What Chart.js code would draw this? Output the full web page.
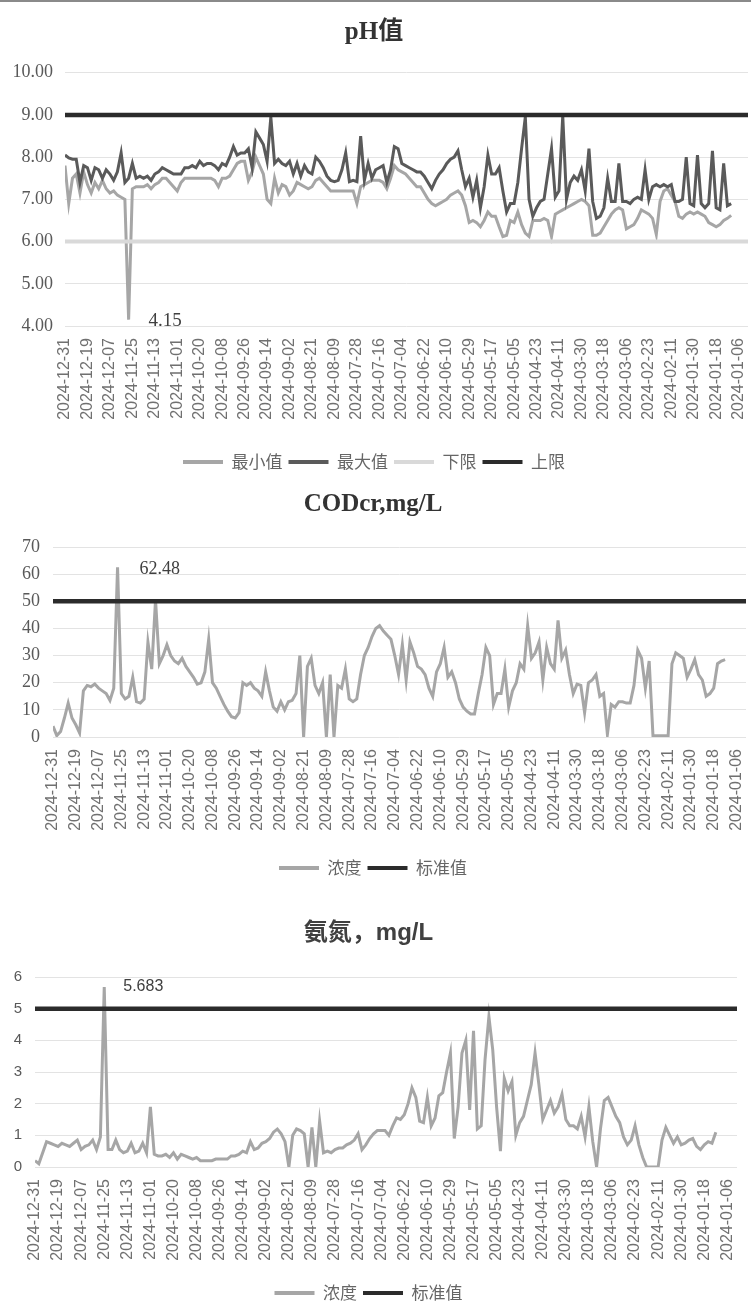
<!DOCTYPE html>
<html><head><meta charset="utf-8">
<script src="https://cdn.jsdelivr.net/npm/chart.js@4.4.1/dist/chart.umd.min.js"></script>
<style>
html,body{margin:0;padding:0;background:#fff;width:751px;height:1305px;overflow:hidden;position:relative}
.box{position:absolute;left:0;width:751px}
canvas{display:block}
#topline{position:absolute;left:0;top:0;width:751px;height:2px;background:#8a8a8a}
</style></head><body>
<div id="topline"></div>
<div class="box" style="top:0"><canvas id="c1" width="751" height="490"></canvas></div>
<div class="box" style="top:478px"><canvas id="c2" width="751" height="410"></canvas></div>
<div class="box" style="top:895px"><canvas id="c3" width="751" height="420"></canvas></div>
<script>
// ---- categories / tick labels (every 12th day, newest first) ----
const tickLabels = ['2024-12-31','2024-12-19','2024-12-07','2024-11-25','2024-11-13','2024-11-01','2024-10-20','2024-10-08','2024-09-26','2024-09-14','2024-09-02','2024-08-21','2024-08-09','2024-07-28','2024-07-16','2024-07-04','2024-06-22','2024-06-10','2024-05-29','2024-05-17','2024-05-05','2024-04-23','2024-04-11','2024-03-30','2024-03-18','2024-03-06','2024-02-23','2024-02-11','2024-01-30','2024-01-18','2024-01-06'];
const TICK_EVERY = 12;      // days between tick labels
const DAY_MAX = 365;        // last day index on the axis (2024-01-01)
const SAMPLE_STEP = 2;      // values below are read every 2 days starting at 2024-12-31

// ---- pH ----
const phMin = [7.8,6.9,7.5,7.6,7.15,7.65,7.35,7.15,7.4,7.25,
7.45,7.25,7.15,7.2,7.1,7.05,7.0,4.15,7.25,7.3,
7.3,7.3,7.35,7.25,7.35,7.4,7.5,7.5,7.4,7.3,
7.2,7.4,7.5,7.5,7.5,7.5,7.5,7.5,7.5,7.5,
7.45,7.3,7.5,7.5,7.55,7.7,7.85,7.9,7.9,7.45,
7.65,8.0,7.8,7.6,7.0,6.9,7.5,7.15,7.35,7.3,
7.1,7.2,7.4,7.35,7.3,7.25,7.3,7.45,7.5,7.4,
7.3,7.2,7.2,7.2,7.2,7.2,7.2,7.2,6.9,7.3,
7.35,7.4,7.45,7.45,7.45,7.4,7.25,7.5,7.8,7.7,
7.65,7.6,7.5,7.4,7.3,7.3,7.15,7.0,6.9,6.85,
6.9,6.95,7.0,7.1,7.15,7.2,7.1,6.85,6.45,6.5,
6.45,6.35,6.5,6.7,6.6,6.6,6.35,6.12,6.15,6.5,
6.45,6.7,6.4,6.2,6.12,6.5,6.5,6.5,6.55,6.5,
6.12,6.65,6.7,6.75,6.8,6.85,6.9,6.95,7.0,6.95,
6.85,6.15,6.15,6.2,6.35,6.5,6.65,6.75,6.8,6.75,
6.3,6.35,6.4,6.55,6.75,6.7,6.65,6.55,6.17,6.95,
7.2,7.25,7.1,6.95,6.6,6.55,6.65,6.7,6.65,6.7,
6.65,6.6,6.45,6.4,6.35,6.4,6.5,6.55,6.62];
const phMax = [8.05,7.98,7.95,7.95,7.4,7.8,7.75,7.45,7.75,7.7,
7.5,7.7,7.6,7.45,7.65,8.1,7.4,7.5,7.85,7.5,
7.55,7.5,7.55,7.45,7.6,7.65,7.75,7.7,7.65,7.6,
7.6,7.6,7.75,7.75,7.8,7.75,7.9,7.8,7.85,7.85,
7.8,7.7,7.85,7.8,8.0,8.25,8.05,8.1,8.1,8.2,
7.75,8.6,8.45,8.3,7.9,8.95,7.85,7.95,7.85,7.8,
7.9,7.6,7.85,7.55,7.8,7.65,7.6,8.0,7.9,7.75,
7.55,7.45,7.42,7.45,7.7,8.1,7.42,7.45,7.42,8.5,
7.45,7.85,7.5,7.7,7.75,7.8,7.4,7.7,8.25,8.2,
7.85,7.8,7.75,7.7,7.65,7.65,7.55,7.4,7.25,7.45,
7.6,7.7,7.85,7.95,8.0,8.15,7.7,7.3,7.5,7.05,
7.45,6.8,7.3,8.05,7.6,7.6,7.75,7.2,6.7,6.9,
6.9,7.4,8.2,8.95,7.0,6.6,6.8,6.95,7.0,7.6,
8.2,7.05,7.2,8.98,7.0,7.4,7.55,7.45,7.7,7.2,
8.2,6.95,6.55,6.6,6.8,7.5,6.95,6.95,7.85,6.95,
6.95,6.9,7.0,7.05,7.0,7.7,7.0,7.3,7.35,7.3,
7.35,7.3,7.35,6.95,6.95,7.0,8.0,6.9,6.85,8.05,
6.9,6.8,6.9,8.15,6.8,6.75,7.85,6.85,6.9];
const phLowerLimit = 6;
const phUpperLimit = 9;

// ---- CODcr ----
const codValues = [4,0.5,2,7,12.5,7,4.5,1.5,17,19,
18.5,19.5,18,17,16,13.5,18,62.48,16,14,
15,22,13,12.5,14,35,25,50.5,27,30,
34,30,28,27,29,26,24,22,19.5,20,
24,36,20,18,15,12,9.5,7.5,7,9,
20,19,20,18,17,15,24,17,11,9.5,
13,10,13,13.5,16,30,0,26,29,19,
16,20,0,23,0,19,18,25,14,13,
14,23,30,33,37,40,41,39,37.5,36,
30,23,34,21,35,31,26,25,23,18,
15,24,27,33,22,24,20,14,11,9.5,
8.5,8.5,16,23,33,30,12,16,16,25,
11,17,20,27,25,41,29,31,35,21,
33,27,25,43,29,32,23,16,19.5,19,
9,20,21,23,15,16,1,12,11,13,
13,12.5,12.5,19,32,29,18,28,0.5,0.5,
0.5,0.5,0.5,27,31,30,29,22,25,28.5,
23,21,15,16,18,27,28,28.5];
const codStandard = 50;

// ---- 氨氮 ----
const nh3Values = [0.2,0.1,0.45,0.8,0.75,0.7,0.65,0.75,0.7,0.65,
0.75,0.85,0.55,0.65,0.7,0.85,0.55,0.95,5.683,0.55,
0.55,0.85,0.55,0.45,0.5,0.75,0.45,0.5,0.75,0.45,
1.9,0.4,0.35,0.35,0.4,0.3,0.45,0.25,0.4,0.35,
0.3,0.25,0.3,0.2,0.2,0.2,0.2,0.25,0.25,0.25,
0.25,0.35,0.35,0.4,0.5,0.45,0.8,0.55,0.6,0.75,
0.8,0.9,1.1,1.2,1.05,0.8,0,1.0,1.2,1.15,
1.05,0,1.25,0,1.45,0.45,0.5,0.45,0.55,0.6,
0.6,0.7,0.75,0.85,1.05,0.55,0.7,0.9,1.05,1.15,
1.15,1.15,1.0,1.3,1.55,1.5,1.65,2.0,2.5,2.2,
1.45,1.4,2.2,1.3,1.55,2.25,2.35,3.0,3.6,0.9,
1.9,3.6,4.0,1.8,4.3,1.2,1.3,3.4,4.75,3.7,
1.9,0.5,2.8,2.4,2.7,1.0,1.4,1.6,2.1,2.6,
3.6,2.6,1.5,1.8,2.1,1.7,1.9,2.3,1.5,1.3,
1.3,1.2,1.6,0.95,1.9,0.8,0,1.2,2.1,2.2,
1.9,1.6,1.4,0.95,0.7,0.85,1.3,0.7,0.3,0,
0,0,0,0.85,1.25,1.0,0.75,0.95,0.7,0.75,
0.85,0.9,0.65,0.55,0.7,0.8,0.75,1.1];
const nh3Standard = 5;

// ---- helpers ----
const toPoints = vals => vals.map((v, k) => ({x: k * SAMPLE_STEP, y: v}));
const flatLine = v => [{x: 0, y: v}, {x: DAY_MAX, y: v}];

const peakLabel = {
  id: 'peakLabel',
  afterDatasetsDraw(chart, args, o) {
    if (!o || o.datasetIndex == null) return;
    const vals = o.values;
    const target = o.mode === 'min' ? Math.min(...vals) : Math.max(...vals);
    const idx = vals.indexOf(target);
    const el = chart.getDatasetMeta(o.datasetIndex).data[idx];
    if (!el) return;
    const ctx = chart.ctx;
    ctx.save();
    ctx.font = o.font;
    ctx.fillStyle = o.color;
    ctx.textAlign = 'left';
    ctx.textBaseline = 'middle';
    ctx.fillText(String(target), el.x + o.dx, el.y + o.dy);
    ctx.restore();
  }
};

function legendOpts() {
  return {
    position: 'bottom',
    labels: {
      boxWidth: 40, boxHeight: 4, padding: 6, color: '#666',
      font: {family: "'Noto Sans CJK SC', sans-serif", size: 17},
      generateLabels: chart => chart.data.datasets.map((d, i) => ({
        text: d.label, fillStyle: d.borderColor, strokeStyle: d.borderColor,
        lineWidth: 0, hidden: false, datasetIndex: i, fontColor: '#666'
      }))
    }
  };
}
function xScale(h, pad) {
  return {
    type: 'linear', min: 0, max: DAY_MAX, bounds: 'data',
    grid: {display: false, drawTicks: false}, border: {display: false},
    ticks: {
      stepSize: TICK_EVERY, autoSkip: false, includeBounds: false,
      minRotation: 90, maxRotation: 90, padding: pad, color: '#707070',
      font: {family: "'Liberation Sans', Arial, sans-serif", size: 16},
      callback: v => (v % TICK_EVERY === 0 ? tickLabels[v / TICK_EVERY] : '')
    },
    afterFit(s) { s.height = h; s.paddingLeft = 0; s.paddingRight = 0; }
  };
}
function yScale(min, max, step, w, pad, font, fmt) {
  return {
    min, max,
    grid: {color: '#e3e3e3', lineWidth: 1, drawTicks: false}, border: {display: false},
    ticks: {stepSize: step, padding: pad, color: '#595959', font, callback: fmt},
    afterFit(s) { s.width = w; }
  };
}
const common = {
  responsive: false, animation: false, events: [],
  elements: {point: {radius: 0}, line: {tension: 0}},
};
const serifTitle = {family: "'Liberation Serif', 'Times New Roman', 'Noto Sans CJK SC', serif", size: 25, weight: 'bold'};
const serifTicks = {family: "'Liberation Serif', 'Times New Roman', serif", size: 18};

// ---- chart 1: pH ----
new Chart(document.getElementById('c1'), {
  type: 'line',
  data: {datasets: [
    {label: '最小值', data: toPoints(phMin), borderColor: '#a6a6a6', backgroundColor: '#a6a6a6', borderWidth: 3, order: 4},
    {label: '最大值', data: toPoints(phMax), borderColor: '#5a5a5a', backgroundColor: '#5a5a5a', borderWidth: 3, order: 3},
    {label: '下限', data: flatLine(phLowerLimit), borderColor: '#d9d9d9', backgroundColor: '#d9d9d9', borderWidth: 4, order: 2},
    {label: '上限', data: flatLine(phUpperLimit), borderColor: '#2b2b2b', backgroundColor: '#2b2b2b', borderWidth: 4.5, order: 1}
  ]},
  options: {...common,
    layout: {padding: {left: 0, right: 3, top: 0, bottom: 9.5}},
    scales: {
      x: xScale(121.5, 12),
      y: yScale(4, 10, 1, 65, 12, serifTicks, v => v.toFixed(2))
    },
    plugins: {
      title: {display: true, text: 'pH值', color: '#333', font: serifTitle, padding: {top: 18, bottom: 24.7}},
      legend: legendOpts(),
      tooltip: {enabled: false},
      peakLabel: {datasetIndex: 0, values: phMin, mode: 'min', dx: 20, dy: 1, color: '#404040',
        font: "19px 'Liberation Serif', 'Times New Roman', serif"}
    }
  },
  plugins: [peakLabel]
});

// ---- chart 2: CODcr ----
new Chart(document.getElementById('c2'), {
  type: 'line',
  data: {datasets: [
    {label: '浓度', data: toPoints(codValues), borderColor: '#a6a6a6', backgroundColor: '#a6a6a6', borderWidth: 3, order: 2},
    {label: '标准值', data: flatLine(codStandard), borderColor: '#2b2b2b', backgroundColor: '#2b2b2b', borderWidth: 4.5, order: 1}
  ]},
  options: {...common,
    layout: {padding: {left: 0, right: 5, top: 0, bottom: 1.5}},
    scales: {
      x: xScale(116.5, 12),
      y: yScale(0, 70, 10, 53, 13, serifTicks, v => String(v))
    },
    plugins: {
      title: {display: true, text: 'CODcr,mg/L', color: '#333', font: serifTitle, padding: {top: 12, bottom: 27}},
      legend: legendOpts(),
      tooltip: {enabled: false},
      peakLabel: {datasetIndex: 0, values: codValues, mode: 'max', dx: 22, dy: 2, color: '#404040',
        font: "18px 'Liberation Serif', 'Times New Roman', serif"}
    }
  },
  plugins: [peakLabel]
});

// ---- chart 3: 氨氮 ----
new Chart(document.getElementById('c3'), {
  type: 'line',
  data: {datasets: [
    {label: '浓度', data: toPoints(nh3Values), borderColor: '#a6a6a6', backgroundColor: '#a6a6a6', borderWidth: 3, order: 2},
    {label: '标准值', data: flatLine(nh3Standard), borderColor: '#2b2b2b', backgroundColor: '#2b2b2b', borderWidth: 4.5, order: 1}
  ]},
  options: {...common,
    layout: {padding: {left: 0, right: 14, top: 0, bottom: 3.5}},
    scales: {
      x: xScale(111.5, 12),
      y: yScale(0, 6, 1, 35, 13, {family: "'Liberation Sans', Arial, sans-serif", size: 15}, v => String(v))
    },
    plugins: {
      title: {display: true, text: '氨氮，mg/L', color: '#404040',
        font: {family: "'Liberation Sans', 'Noto Sans CJK SC', sans-serif", size: 24, weight: 'bold'},
        padding: {top: 23.6, bottom: 29.6}},
      legend: legendOpts(),
      tooltip: {enabled: false},
      peakLabel: {datasetIndex: 0, values: nh3Values, mode: 'max', dx: 19, dy: 0, color: '#404040',
        font: "16px 'Liberation Sans', Arial, sans-serif"}
    }
  },
  plugins: [peakLabel]
});
</script>
</body></html>
